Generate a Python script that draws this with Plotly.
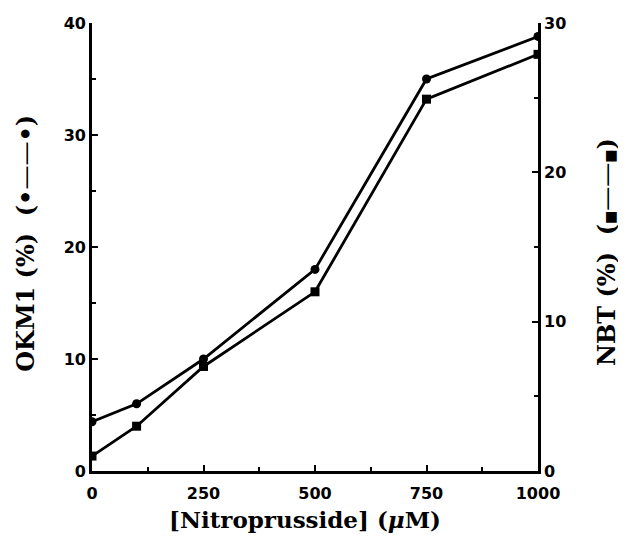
import plotly.graph_objects as go

conc = [0, 100, 250, 500, 750, 1000]
okm1 = [4.4, 6.0, 10.0, 18.0, 35.0, 38.8]
nbt = [1.0, 3.0, 7.0, 12.0, 24.9, 27.9]
x_ticks = [0, 250, 500, 750, 1000]
y1_ticks = [0, 10, 20, 30, 40]
y2_ticks = [0, 10, 20, 30]

tickfont = dict(family="DejaVu Sans", size=16, color="black", weight="bold")
titlefont = dict(family="DejaVu Serif", size=24, color="black", weight="bold")
xtitlefont = dict(family="DejaVu Serif", size=23, color="black", weight="bold")

fig = go.Figure()
fig.add_trace(go.Scatter(x=conc, y=okm1, mode="lines+markers",
                         line=dict(color="black", width=2.8),
                         marker=dict(symbol="circle", size=9, color="black"),
                         yaxis="y", showlegend=False))
fig.add_trace(go.Scatter(x=conc, y=nbt, mode="lines+markers",
                         line=dict(color="black", width=2.8),
                         marker=dict(symbol="square", size=9, color="black"),
                         yaxis="y2", showlegend=False))

common = dict(showline=True, linecolor="black", linewidth=2.8,
              ticks="inside", ticklen=6, tickwidth=2, tickcolor="black",
              showgrid=False, zeroline=False, tickfont=tickfont, automargin=False)

fig.update_layout(
    width=618, height=528,
    margin=dict(l=84, r=88, t=15, b=65),
    plot_bgcolor="white", paper_bgcolor="white",
    xaxis=dict(range=[0, 1000], tickvals=x_ticks, mirror=False, ticklabelstandoff=6,
               minor=dict(dtick=125, ticks="inside", ticklen=4, tickwidth=2, tickcolor="black"),
               **common),
    yaxis=dict(range=[0, 40], tickvals=y1_ticks,
               minor=dict(dtick=5, ticks="inside", ticklen=4, tickwidth=2, tickcolor="black"),
               **common),
    yaxis2=dict(range=[0, 30], tickvals=y2_ticks, overlaying="y", side="right",
                minor=dict(dtick=5, ticks="inside", ticklen=4, tickwidth=2, tickcolor="black"),
                **common),
    annotations=[
        dict(text="[Nitroprusside] (<i>μ</i>M)", xref="paper", yref="paper", x=0.478, y=0,
             yshift=-48, showarrow=False, font=xtitlefont, xanchor="center", yanchor="middle"),
        dict(text="OKM1 (%)  (•<span style='font-weight:normal'>——</span>•)",
             xref="paper", yref="paper", x=0, y=0.507,
             xshift=-66, textangle=-90, showarrow=False, font=titlefont,
             xanchor="center", yanchor="middle"),
        dict(text="NBT (%)  (<span style='font-size:14px'>■</span><span style='font-weight:normal'>——</span><span style='font-size:14px'>■</span>)",
             xref="paper", yref="paper", x=1, y=0.489,
             xshift=69, textangle=-90, showarrow=False, font=titlefont,
             xanchor="center", yanchor="middle"),
    ],
)

fig.write_html("out.html")
